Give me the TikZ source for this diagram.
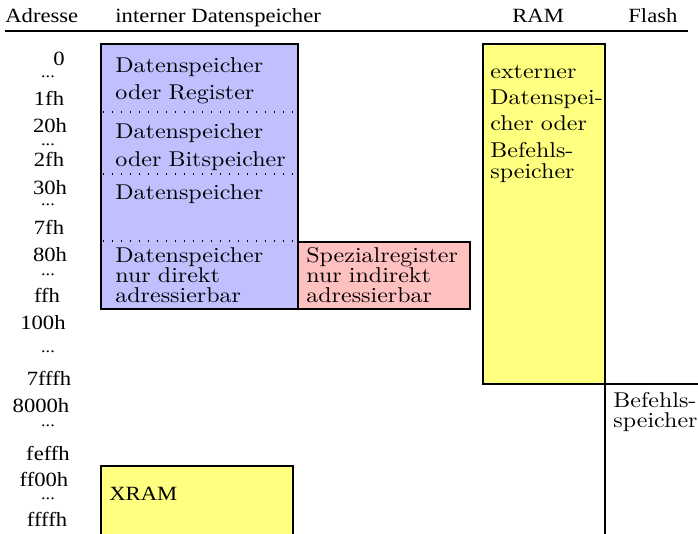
\documentclass[tikz,border=0pt]{standalone}
\usepackage{fontspec}
\usetikzlibrary{positioning}
\newfontfamily\labfont[FakeStretch=1.12]{Liberation Serif}
\newfontfamily\boxfont[FakeStretch=1.12]{lmroman10-regular.otf}
\definecolor{Iram}{HTML}{C0C0FF}
\definecolor{Sfr}{HTML}{FFC0C0}
\definecolor{Xram}{HTML}{FFFF80}

\begin{document}
\begin{tikzpicture}[x=0.495pt,y=-0.495pt,
    mem/.style={draw=black,line width=1.25pt},
    sep/.style={line width=0.55pt,dash pattern=on 0.55pt off 3.9pt},
    head/.style={anchor=base west,inner sep=0pt,font=\labfont\fontsize{10}{12}\selectfont},
    addr/.style={anchor=base,inner sep=0pt,font=\labfont\fontsize{10}{12}\selectfont},
    dots/.style={addr,text height=1pt,text depth=0pt,font=\labfont\fontsize{8}{10}\selectfont},
    txt/.style={anchor=base west,inner sep=0pt,align=left,text width=100pt,
      font=\boxfont\fontsize{10.6}{13.4}\selectfont},
    tight/.style={txt,font=\boxfont\fontsize{10.6}{10.1}\selectfont}]
  \useasboundingbox (0,0) rectangle (698,534);
  \clip (0,0) rectangle (698,534);
  % column heads
  \node[head] (hAdr) at (5,23) {Adresse};
  \node[head] (hInt) at (115,23) {interner Datenspeicher};
  \node[head] (hRam) at (512,23) {RAM};
  \node[head] (hFlash) at (628,23) {Flash};
  \draw[line width=0.5pt] (5,31) -- (688,31);
  % address column
  \foreach \x/\y/\a [count=\i] in {59/66/0, 49/106/1fh, 50/133/20h, 49/167/2fh,
      50/194/30h, 49/234/7fh, 50/261/80h, 47/302/ffh, 43/329/100h, 49/385/7fffh,
      41/412/8000h, 48/460/feffh, 44/486/ff00h, 47/527/ffffh}
    \node[addr] (a\i) at (\x,\y) {\a};
  \foreach \y [count=\i] in {77,146,206,275,352,426,499}
    \node[dots] (d\i) at (48,\y) {...};
  % internal memory
  \draw[mem,fill=Iram] (101,44) rectangle (298,309);
  \foreach \y in {112,174,241}
    \draw[sep] (103,\y) -- (296,\y);
  \draw[mem,fill=Sfr] (298,242) rectangle (470,309);
  \node[txt] (reg) at (115,72) {Datenspeicher\\oder Register};
  \node[txt] (bit) at (115,139) {Datenspeicher\\oder Bitspeicher};
  \node[txt] (dat) at (115,200) {Datenspeicher};
  \node[tight] (dir) at (115,262) {Datenspeicher\\nur direkt\\adressierbar};
  \node[tight] (sfr) at (306,262) {Spezialregister\\nur indirekt\\adressierbar};
  % external memory
  \draw[mem,fill=Xram] (483,44) rectangle (605,384);
  \node[txt,font=\boxfont\fontsize{10.6}{13.1}\selectfont] (ext) at (490,78)
    {externer\\Datenspei-\\cher oder\\Befehls-\\[-2.7pt]speicher};
  \draw[mem] (605,384) rectangle (720,560);
  \node[tight] (code) at (613,407) {Befehls-\\speicher};
  \draw[mem,fill=Xram] (101,466) rectangle (293,560);
  \node[head] (xram) at (109,500) {XRAM};
\end{tikzpicture}
\end{document}
